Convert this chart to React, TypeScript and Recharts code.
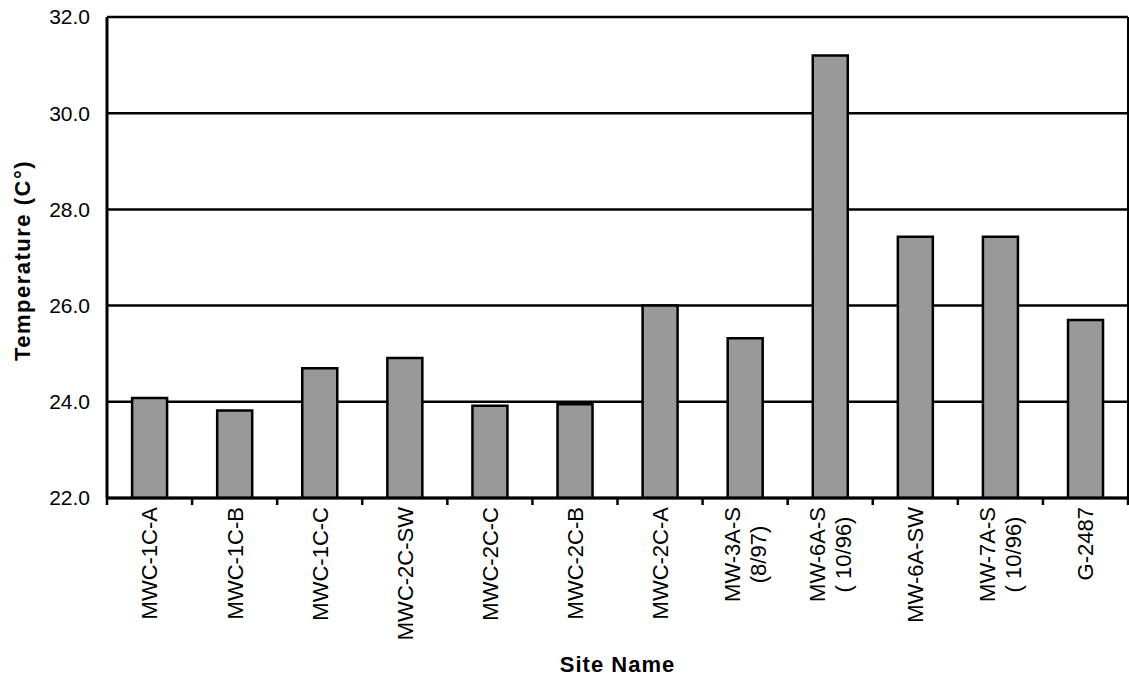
import React from "react";
import { BarChart, Bar, XAxis, YAxis, CartesianGrid, Label } from "recharts";

// Groundwater temperature by monitoring site
const siteNames: string[] = [
  "MWC-1C-A",
  "MWC-1C-B",
  "MWC-1C-C",
  "MWC-2C-SW",
  "MWC-2C-C",
  "MWC-2C-B",
  "MWC-2C-A",
  "MW-3A-S\n(8/97)",
  "MW-6A-S\n( 10/96)",
  "MW-6A-SW",
  "MW-7A-S\n( 10/96)",
  "G-2487",
];

const temperatures: number[] = [
  24.08, 23.82, 24.7, 24.91, 23.92, 23.95, 26.0, 25.32, 31.2, 27.43, 27.43, 25.7,
];

const yTicks: number[] = [22, 24, 26, 28, 30, 32];

const data = siteNames.map((site, i) => ({ site, temp: temperatures[i] }));

const FONT = "'Liberation Sans', Arial, sans-serif";
const X_FONT_SIZE = 22;

let measureCtx: CanvasRenderingContext2D | null = null;
function textWidth(s: string): number {
  if (typeof document === "undefined") return s.length * X_FONT_SIZE * 0.6;
  if (!measureCtx) {
    const c = document.createElement("canvas");
    measureCtx = c.getContext("2d");
  }
  if (!measureCtx) return s.length * X_FONT_SIZE * 0.6;
  measureCtx.font = `${X_FONT_SIZE}px 'Liberation Sans', Arial`;
  return measureCtx.measureText(s).width;
}

// Rotated category labels with tick marks on the category boundaries
const SiteTick = (props: any) => {
  const { y, payload, index, visibleTicksCount } = props;
  const x = payload.coordinate ?? props.x;
  const half = payload.offset ? payload.offset : 42.54;
  const lines = String(payload.value).split("\n");
  const n = lines.length;
  const gap = 9;
  const lineStep = 26;
  const maxLen = Math.max(...lines.map(textWidth));
  const isLast = index === (visibleTicksCount ?? siteNames.length) - 1;
  return (
    <g>
      <line x1={x - half} x2={x - half} y1={y} y2={y + 7} stroke="#000" strokeWidth={2.5} />
      {isLast && (
        <line x1={x + half} x2={x + half} y1={y} y2={y + 7} stroke="#000" strokeWidth={2.5} />
      )}
      <g transform={`translate(${x},${y}) rotate(-90)`}>
        {lines.map((ln, i) => (
          <text
            key={i}
            x={n === 1 ? -gap : -(gap + maxLen / 2)}
            y={(i - (n - 1) / 2) * lineStep}
            dy="0.36em"
            textAnchor={n === 1 ? "end" : "middle"}
            fontFamily={FONT}
            fontSize={X_FONT_SIZE}
            fill="#000"
            style={{ whiteSpace: "pre" }}
          >
            {ln}
          </text>
        ))}
      </g>
    </g>
  );
};

export default function App() {
  return (
    <div style={{ position: "absolute", left: 0, top: 0, background: "#fff" }}>
      <BarChart
        width={1129}
        height={681}
        data={data}
        margin={{ top: 17, right: 0, bottom: 0, left: 0 }}
        barCategoryGap="29.5%"
        style={{ fontFamily: FONT }}
      >
        <CartesianGrid
          yAxisId="left"
          vertical={false}
          horizontalValues={yTicks}
          stroke="#000"
          strokeWidth={2.5}
        />
        <XAxis
          dataKey="site"
          height={183}
          interval={0}
          tickSize={0}
          tickMargin={0}
          tickLine={false}
          axisLine={{ stroke: "#000", strokeWidth: 3 }}
          tick={<SiteTick />}
        >
          <Label
            content={(p: any) => {
              const vb = p.viewBox || { x: 107, y: 498, width: 1021, height: 183 };
              return (
                <text
                  x={vb.x + vb.width / 2}
                  y={vb.y + 174}
                  textAnchor="middle"
                  fontFamily={FONT}
                  fontWeight="bold"
                  fontSize={22}
                  letterSpacing={1}
                  fill="#000"
                >
                  Site Name
                </text>
              );
            }}
          />
        </XAxis>
        <YAxis
          yAxisId="left"
          width={107}
          domain={[22, 32]}
          ticks={yTicks}
          allowDataOverflow
          tickFormatter={(v: number) => v.toFixed(1)}
          tickSize={0}
          tickMargin={17}
          tickLine={false}
          axisLine={{ stroke: "#000", strokeWidth: 3 }}
          tick={{ fill: "#000", fontSize: 21, fontFamily: FONT }}
        >
          <Label
            content={(p: any) => {
              const vb = p.viewBox || { x: 0, y: 17, width: 107, height: 481 };
              const cx = vb.x + 22.5;
              const cy = vb.y + vb.height / 2 + 3;
              return (
                <text
                  x={cx}
                  y={cy}
                  transform={`rotate(-90 ${cx} ${cy})`}
                  textAnchor="middle"
                  dy="0.36em"
                  fontFamily={FONT}
                  fontWeight="bold"
                  fontSize={22}
                  letterSpacing={1.5}
                  fill="#000"
                >
                  Temperature (C°)
                </text>
              );
            }}
          />
        </YAxis>
        <YAxis
          yAxisId="right"
          orientation="right"
          width={1}
          domain={[22, 32]}
          ticks={yTicks}
          tick={false}
          tickLine={false}
          axisLine={{ stroke: "#000", strokeWidth: 2 }}
        />
        <Bar
          yAxisId="left"
          dataKey="temp"
          fill="#999999"
          stroke="#000"
          strokeWidth={2.5}
          isAnimationActive={false}
        />
      </BarChart>
    </div>
  );
}
